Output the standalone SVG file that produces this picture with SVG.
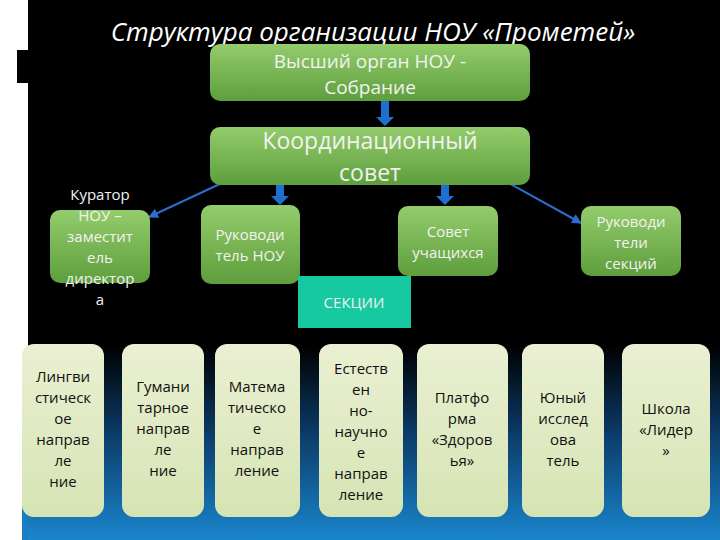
<svg xmlns="http://www.w3.org/2000/svg" width="720" height="540" viewBox="0 0 720 540">
<defs>
<linearGradient id="bg" x1="0" y1="0" x2="0" y2="1">
<stop offset="0" stop-color="#000"/><stop offset="0.64" stop-color="#000"/><stop offset="0.8" stop-color="#0b3a66"/><stop offset="1" stop-color="#1a86cc"/>
</linearGradient>
<linearGradient id="gr" x1="0" y1="0" x2="0" y2="1">
<stop offset="0" stop-color="#94cc6c"/><stop offset="1" stop-color="#5e9e3c"/>
</linearGradient>
<linearGradient id="cr" x1="0" y1="0" x2="0" y2="1">
<stop offset="0" stop-color="#eaf0d2"/><stop offset="1" stop-color="#d6e4b4"/>
</linearGradient>
<marker id="ah" viewBox="0 0 10 10" refX="9" refY="5" markerWidth="5" markerHeight="5" orient="auto"><path d="M0,0 L10,5 L0,10 z" fill="#2a6fd0"/></marker>
</defs>
<style>
.g{fill:url(#gr)}
.c{fill:url(#cr)}
.w{font-family:"Open Sans","Liberation Sans",sans-serif;fill:#f2f2f2;text-anchor:middle}
.k{font-family:"Open Sans","Liberation Sans",sans-serif;fill:#111;text-anchor:middle;font-size:15px}
.ln{stroke:#2a6fd0;stroke-width:2;fill:none}
.big{fill:#1f6fd0}
</style>
<rect width="720" height="540" fill="url(#bg)"/>
<rect x="0" y="0" width="28" height="540" fill="#fff"/>
<rect x="17" y="50" width="11" height="33" fill="#000"/>
<rect x="22" y="480" width="6" height="60" fill="#1a7fc0"/>
<text x="373" y="41" font-family="'Open Sans','Liberation Sans',sans-serif" font-style="italic" font-size="26" fill="#fff" text-anchor="middle">Структура организации НОУ «Прометей»</text>

<g id="connectors">
<path class="big" d="M381,101 h8 v16 h5 l-9,9 l-9,-9 h5 z"/>
<path class="big" d="M276,185 h8 v11 h5 l-9,9 l-9,-9 h5 z"/>
<path class="big" d="M441,185 h8 v11 h5 l-9,9 l-9,-9 h5 z"/>
<line class="ln" x1="252" y1="169" x2="149" y2="217" marker-end="url(#ah)"/>
<line class="ln" x1="505" y1="181" x2="581" y2="223" marker-end="url(#ah)"/>
</g>

<g id="vysshiy"><rect class="g" x="210" y="44" width="320" height="57" rx="10"/>
<text class="w" font-size="19"><tspan x="370" y="68">Высший орган НОУ -</tspan><tspan x="370" y="94">Собрание</tspan></text></g>
<g id="koord"><rect class="g" x="210" y="127" width="320" height="58" rx="10"/>
<text class="w" font-size="23"><tspan x="370" y="149">Координационный</tspan><tspan x="370" y="181">совет</tspan></text></g>
<g id="kurator"><rect class="g" x="50" y="210" width="100" height="73" rx="10"/>
<text class="w" font-size="15"><tspan x="100" y="200">Куратор</tspan><tspan x="100" y="221">НОУ –</tspan><tspan x="100" y="242">заместит</tspan><tspan x="100" y="263">ель</tspan><tspan x="100" y="284">директор</tspan><tspan x="100" y="305">а</tspan></text></g>
<g id="rukNOU"><rect class="g" x="201" y="205" width="99" height="79" rx="10"/>
<text class="w" font-size="15"><tspan x="250" y="240">Руководи</tspan><tspan x="250" y="261">тель НОУ</tspan></text></g>
<g id="sovet"><rect class="g" x="398" y="206" width="100" height="70" rx="10"/>
<text class="w" font-size="15"><tspan x="448" y="237">Совет</tspan><tspan x="448" y="258">учащихся</tspan></text></g>
<g id="rukSek"><rect class="g" x="581" y="206" width="100" height="70" rx="10"/>
<text class="w" font-size="15"><tspan x="631" y="227">Руководи</tspan><tspan x="631" y="248">тели</tspan><tspan x="631" y="269">секций</tspan></text></g>
<g id="sekcii"><rect x="298" y="276" width="113" height="52" fill="#17c9a0"/>
<text class="w" font-size="15" x="354" y="308">СЕКЦИИ</text></g>

<g id="b1"><rect class="c" x="22" y="344" width="82" height="173" rx="12"/>
<text class="k"><tspan x="63" y="382">Лингви</tspan><tspan x="63" y="403">стическ</tspan><tspan x="63" y="424">ое</tspan><tspan x="63" y="445">направ</tspan><tspan x="63" y="466">ле</tspan><tspan x="63" y="487">ние</tspan></text></g>
<g id="b2"><rect class="c" x="122" y="344" width="82" height="173" rx="12"/>
<text class="k"><tspan x="163" y="392">Гумани</tspan><tspan x="163" y="413">тарное</tspan><tspan x="163" y="434">направ</tspan><tspan x="163" y="455">ле</tspan><tspan x="163" y="476">ние</tspan></text></g>
<g id="b3"><rect class="c" x="215" y="344" width="85" height="173" rx="12"/>
<text class="k"><tspan x="257" y="392">Матема</tspan><tspan x="257" y="413">тическо</tspan><tspan x="257" y="434">е</tspan><tspan x="257" y="455">направ</tspan><tspan x="257" y="476">ление</tspan></text></g>
<g id="b4"><rect class="c" x="319" y="344" width="84" height="173" rx="12"/>
<text class="k"><tspan x="361" y="374">Естеств</tspan><tspan x="361" y="395">ен</tspan><tspan x="361" y="416">но-</tspan><tspan x="361" y="437">научно</tspan><tspan x="361" y="458">е</tspan><tspan x="361" y="479">направ</tspan><tspan x="361" y="500">ление</tspan></text></g>
<g id="b5"><rect class="c" x="417" y="344" width="91" height="173" rx="12"/>
<text class="k"><tspan x="462" y="403">Платфо</tspan><tspan x="462" y="424">рма</tspan><tspan x="462" y="445">«Здоров</tspan><tspan x="462" y="466">ья»</tspan></text></g>
<g id="b6"><rect class="c" x="522" y="344" width="82" height="173" rx="12"/>
<text class="k"><tspan x="563" y="403">Юный</tspan><tspan x="563" y="424">исслед</tspan><tspan x="563" y="445">ова</tspan><tspan x="563" y="466">тель</tspan></text></g>
<g id="b7"><rect class="c" x="622" y="344" width="88" height="173" rx="12"/>
<text class="k"><tspan x="666" y="414">Школа</tspan><tspan x="666" y="435">«Лидер</tspan><tspan x="666" y="456">»</tspan></text></g>
</svg>
